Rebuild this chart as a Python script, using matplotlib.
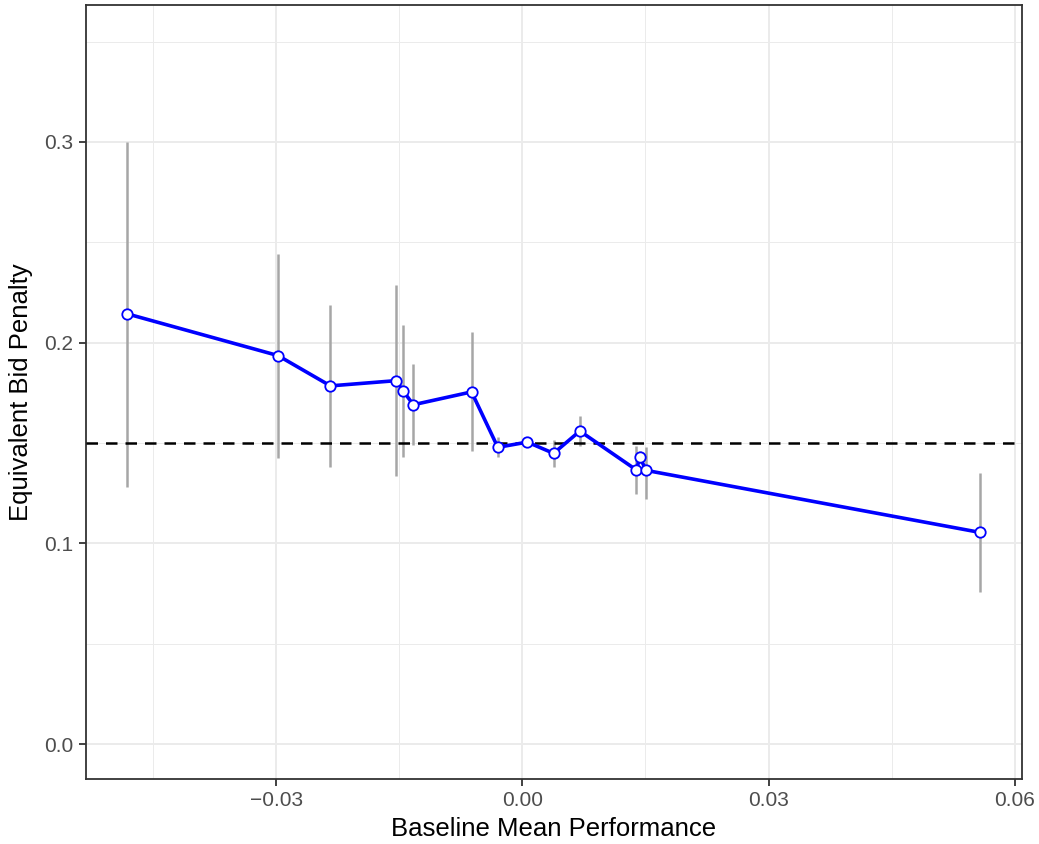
import numpy as np
import matplotlib
matplotlib.use("Agg")
import matplotlib.pyplot as plt
from matplotlib.ticker import MultipleLocator, FuncFormatter

# values
baseline_perf = [-0.0482, -0.0298, -0.0234, -0.0154, -0.0145, -0.0133, -0.0062,
                 -0.0030, 0.0006, 0.0038, 0.0070, 0.0139, 0.0143, 0.0151, 0.0558]
bid_penalty = [0.2144, 0.1936, 0.1785, 0.1811, 0.1758, 0.1691, 0.1755,
               0.1479, 0.1505, 0.1449, 0.1560, 0.1366, 0.1429, 0.1364, 0.1055]
ci_low = [0.128, 0.1424, 0.1379, 0.1336, 0.1429, 0.1491, 0.1459,
          0.1429, 0.1490, 0.1382, 0.1486, 0.1246, 0.1400, 0.1223, 0.0759]
ci_high = [0.300, 0.2443, 0.2188, 0.2288, 0.2089, 0.1896, 0.2052,
           0.1529, 0.1520, 0.1515, 0.1635, 0.1486, 0.1460, 0.1482, 0.1349]
reference_penalty = 0.15

x_ticks = [-0.03, 0.00, 0.03, 0.06]
y_ticks = [0.0, 0.1, 0.2, 0.3]

plt.rcParams.update({
    "font.family": ["Liberation Sans", "DejaVu Sans"],
    "axes.unicode_minus": True,
})

fig = plt.figure(figsize=(10.39, 8.44), dpi=100)
ax = fig.add_axes([86 / 1039, 1 - 779 / 844, (1022 - 86) / 1039, (779 - 5) / 844])

# grid like theme_bw
ax.set_axisbelow(True)
ax.xaxis.set_major_locator(plt.FixedLocator(x_ticks))
ax.yaxis.set_major_locator(plt.FixedLocator(y_ticks))
ax.xaxis.set_minor_locator(MultipleLocator(0.015))
ax.yaxis.set_minor_locator(MultipleLocator(0.05))
ax.grid(True, which="major", color="#EBEBEB", linewidth=1.4)
ax.grid(True, which="minor", color="#EBEBEB", linewidth=0.7)
ax.tick_params(which="minor", length=0)

# error bars
ax.vlines(baseline_perf, ci_low, ci_high, color="#A6A6A6", linewidth=1.8, zorder=2)

# reference line
ax.axhline(reference_penalty, color="black", linewidth=1.8, linestyle=(0, (4.6, 3.2)), zorder=3)

# main line
ax.plot(baseline_perf, bid_penalty, color="#0000FF", linewidth=2.6, zorder=4,
        marker="o", markersize=7.5, markerfacecolor="white",
        markeredgecolor="#0000FF", markeredgewidth=1.3)

ax.set_xlim(-0.0532, 0.0609)
ax.set_ylim(-0.0173, 0.3682)

ax.xaxis.set_major_formatter(FuncFormatter(lambda v, _: f"{v:.2f}".replace("-", "\u2212")))
ax.yaxis.set_major_formatter(FuncFormatter(lambda v, _: f"{v:.1f}"))

ax.tick_params(which="major", length=5, width=1.3, color="#333333",
               labelsize=15, labelcolor="#4D4D4D", pad=4)

for s in ax.spines.values():
    s.set_color("#333333")
    s.set_linewidth(1.3)

ax.set_xlabel("Baseline Mean Performance", fontsize=18.5, color="black", labelpad=5)
ax.set_ylabel("Equivalent Bid Penalty", fontsize=18.5, color="black", labelpad=8)

fig.savefig("out.png", dpi=100)
